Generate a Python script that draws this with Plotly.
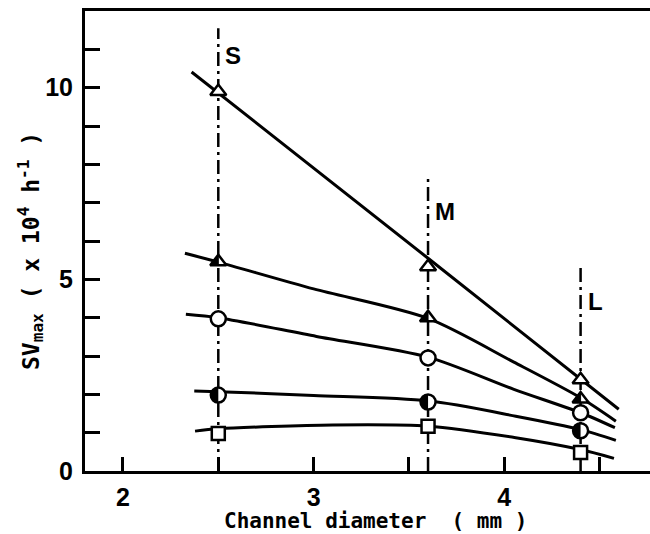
import numpy as np
import plotly.graph_objects as go

# ---------------- data ----------------
station_names = ["S", "M", "L"]
station_x = [2.5, 3.6, 4.4]
station_top = [11.55, 7.75, 5.38]
station_label_y = [10.83, 6.76, 4.42]

open_tri = [9.90, 5.33, 2.38]
half_tri = [5.46, 4.00, 1.88]
open_circ = [3.97, 2.95, 1.52]
half_circ = [1.98, 1.80, 1.05]
open_sq = [0.98, 1.17, 0.48]

curve_a_x = [2.36, 3.60, 4.60]
curve_a_y = [10.41, 5.55, 1.61]
curve_b_x = [2.325, 2.5, 3.0, 3.6, 4.05, 4.4, 4.585]
curve_b_y = [5.68, 5.45, 4.75, 3.98, 2.84, 1.91, 1.30]
curve_c_x = [2.33, 2.5, 3.015, 3.6, 4.05, 4.4, 4.58]
curve_c_y = [4.09, 4.00, 3.51, 2.97, 2.13, 1.52, 1.13]
curve_d_x = [2.374, 2.5, 3.0, 3.6, 4.06, 4.4, 4.585]
curve_d_y = [2.09, 2.07, 1.97, 1.83, 1.43, 1.08, 0.80]
curve_e_x = [2.378, 2.5, 3.1, 3.6, 4.06, 4.4, 4.575]
curve_e_y = [1.04, 1.10, 1.20, 1.17, 0.87, 0.56, 0.33]

x_ticks = [2, 3, 4]
y_ticks = [0, 5, 10]

# ---------------- layout geometry ----------------
W, H = 650, 534
ML, MR, MT, MB = 85, 0, 11, 63
XR = [1.801, 4.764]
YR = [0, 12]
pw = W - ML - MR
ph = H - MT - MB
px_x = pw / (XR[1] - XR[0])
px_y = ph / (YR[1] - YR[0])

TICK_FONT = dict(family="Liberation Sans Narrow, Liberation Sans, Arial", size=25, color="black", weight="bold")
MONO = dict(family="DejaVu Sans Mono, monospace", size=21, color="black", weight="bold")

fig = go.Figure()

# curves
for cx, cy in [(curve_a_x, curve_a_y), (curve_b_x, curve_b_y), (curve_c_x, curve_c_y),
               (curve_d_x, curve_d_y), (curve_e_x, curve_e_y)]:
    fig.add_trace(go.Scatter(x=cx, y=cy, mode="lines",
                             line=dict(color="black", width=3, shape="spline", smoothing=0.8),
                             hoverinfo="skip", showlegend=False))

# station dash-dot lines
for sx, st in zip(station_x, station_top):
    fig.add_trace(go.Scatter(x=[sx, sx], y=[0, st], mode="lines",
                             line=dict(color="black", width=2.5, dash="14px,5px,3px,5px"),
                             hoverinfo="skip", showlegend=False))

mk_line = dict(color="black", width=2.5)
fig.add_trace(go.Scatter(x=station_x, y=open_tri, mode="markers",
                         marker=dict(symbol="triangle-up", size=14, color="white", line=mk_line),
                         showlegend=False))
fig.add_trace(go.Scatter(x=station_x, y=half_tri, mode="markers",
                         marker=dict(symbol="triangle-up", size=14, color="white", line=mk_line),
                         showlegend=False))
fig.add_trace(go.Scatter(x=station_x, y=open_circ, mode="markers",
                         marker=dict(symbol="circle", size=15, color="white", line=mk_line),
                         showlegend=False))
fig.add_trace(go.Scatter(x=station_x, y=half_circ, mode="markers",
                         marker=dict(symbol="circle", size=15, color="white", line=mk_line),
                         showlegend=False))
fig.add_trace(go.Scatter(x=station_x, y=open_sq, mode="markers",
                         marker=dict(symbol="square", size=13, color="white", line=mk_line),
                         showlegend=False))

# left-half fills (half-filled circles)
r = 7.5
th = np.linspace(np.pi / 2, 3 * np.pi / 2, 25)
for xc, yc in zip(station_x, half_circ):
    fig.add_trace(go.Scatter(x=xc + r * np.cos(th) / px_x, y=yc + r * np.sin(th) / px_y,
                             fill="toself", fillcolor="black", mode="lines",
                             line=dict(color="black", width=1), hoverinfo="skip", showlegend=False))
# left-half fills (half-filled triangles)
rt_ = 7.0
rtw = rt_ * 2 / np.sqrt(3)
for xc, yc in zip(station_x, half_tri):
    fig.add_trace(go.Scatter(x=[xc, xc - rtw / px_x, xc, xc],
                             y=[yc + rt_ / px_y, yc - rt_ / 2 / px_y, yc - rt_ / 2 / px_y, yc + rt_ / px_y],
                             fill="toself", fillcolor="black", mode="lines",
                             line=dict(color="black", width=1), hoverinfo="skip", showlegend=False))

# station labels
for name, sx, ly in zip(station_names, station_x, station_label_y):
    fig.add_annotation(x=sx, y=ly, text=name, showarrow=False, xanchor="left", xshift=5,
                       font=dict(family="Liberation Sans Narrow, Liberation Sans, Arial", size=24,
                                 color="black", weight="bold"))

# axis titles
fig.add_annotation(xref="paper", yref="paper", x=(375 - ML) / pw, y=(H - MB - 521) / ph,
                   text="Channel diameter\u00a0\u00a0( mm )", showarrow=False,
                   xanchor="center", yanchor="middle", font=MONO)
fig.add_annotation(xref="paper", yref="paper", x=(30 - ML) / pw, y=(H - MB - 251) / ph,
                   text="SV<sub>max</sub> ( x 10<sup>4</sup> h<sup>-1</sup> )", showarrow=False,
                   textangle=-90, xanchor="center", yanchor="middle",
                   font=dict(family="DejaVu Sans Mono, monospace", size=23, color="black", weight="bold"))

fig.update_layout(
    width=W, height=H, margin=dict(l=ML, r=MR, t=MT, b=MB),
    paper_bgcolor="white", plot_bgcolor="white", showlegend=False,
    xaxis=dict(range=XR, tickvals=x_ticks, ticks="inside", ticklen=14, tickwidth=2.5,
               tickcolor="black", showline=True, linecolor="black", linewidth=3, mirror=True,
               showgrid=False, zeroline=False, tickfont=TICK_FONT, ticklabelstandoff=2,
               minor=dict(dtick=0.5, tick0=0, ticks="inside", ticklen=14, tickwidth=2.5, tickcolor="black",
                          showgrid=False)),
    yaxis=dict(range=YR, tickvals=y_ticks, ticks="inside", ticklen=15, tickwidth=2.5,
               tickcolor="black", showline=True, linecolor="black", linewidth=3, mirror=False,
               showgrid=False, zeroline=False, tickfont=TICK_FONT, ticklabelstandoff=4,
               minor=dict(dtick=1, tick0=0, ticks="inside", ticklen=15, tickwidth=2.5, tickcolor="black",
                          showgrid=False)),
)

fig.write_html("out.html")
